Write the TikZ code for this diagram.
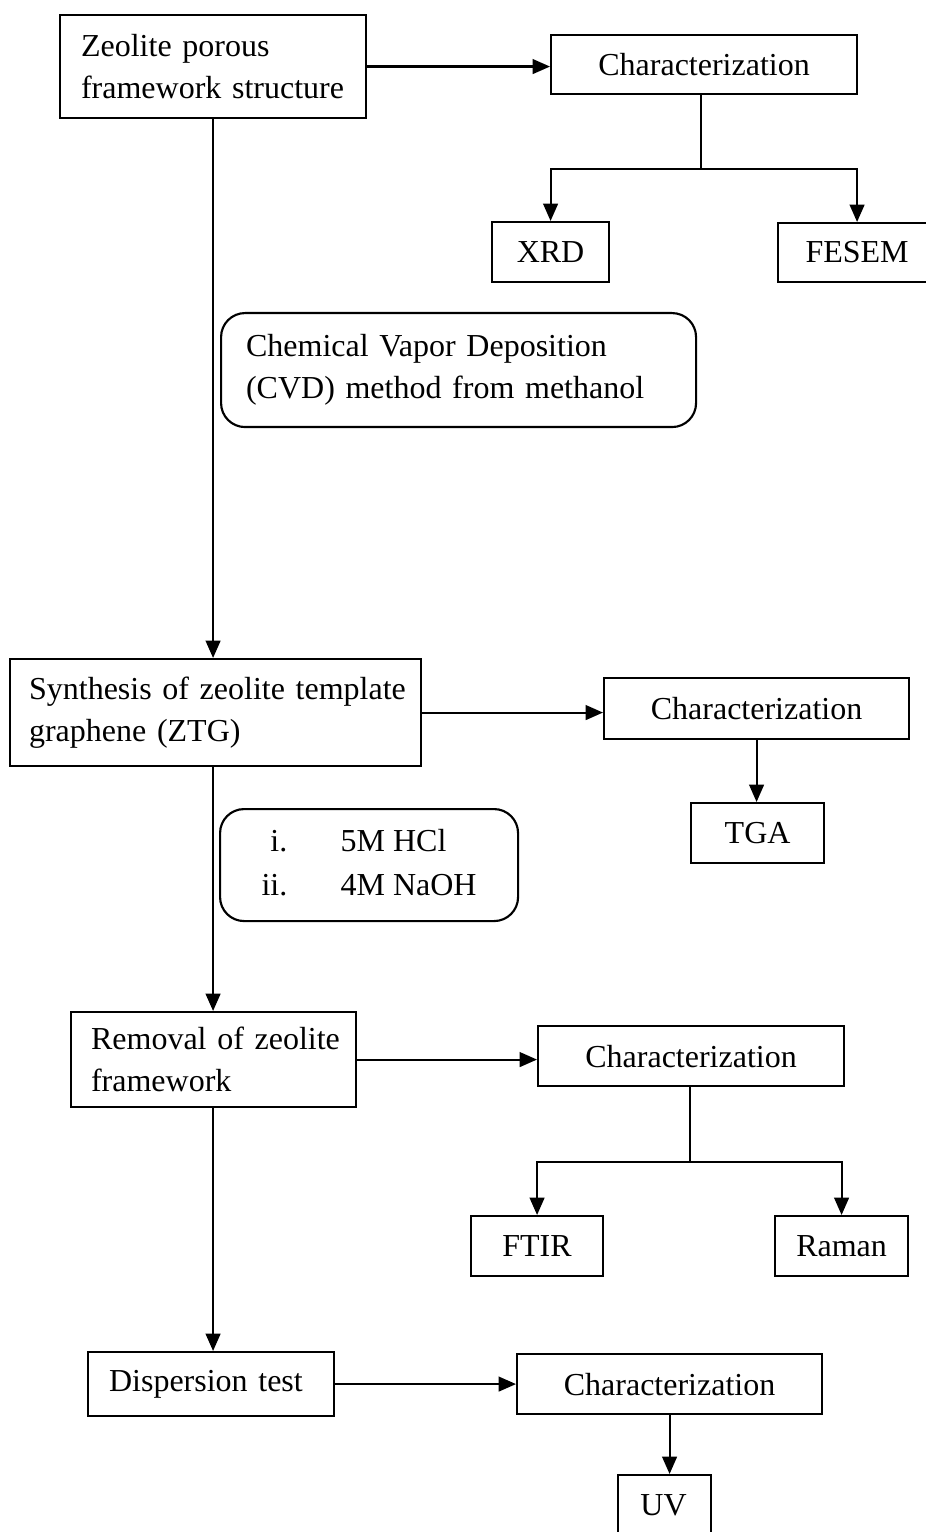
\documentclass[tikz,border=0pt]{standalone}
\usepackage{fontspec}
\setmainfont{Liberation Serif}
\usetikzlibrary{arrows.meta}
\newdimen\pxu
\pxu=0.375pt
\begin{document}
\begin{tikzpicture}[x=0.375pt,y=-0.375pt,
  every node/.style={font=\fontsize{12}{15.75}\selectfont},
  box/.style={draw,line width=0.8pt,anchor=north west,inner sep=0pt,align=center},
  lbox/.style={box,align=left},
  rbox/.style={box,rounded corners=9pt},
  ln/.style={line width=0.8pt},
  arr/.style={ln,-{Triangle[length=6.5pt,width=5.5pt]}}]
\useasboundingbox (0,0) rectangle (925,1532);
% nodes
\node[lbox,minimum width=306\pxu,minimum height=103\pxu,text width=264\pxu] (zeo) at (59,14) {\mbox{Zeolite porous}\\\mbox{framework structure}};
\node[box,minimum width=306\pxu,minimum height=59\pxu] (ch1) at (550,34) {Characterization};
\node[box,minimum width=117\pxu,minimum height=60\pxu] (xrd) at (491,221) {XRD};
\node[box,minimum width=158\pxu,minimum height=59\pxu] (fesem) at (777,222) {FESEM};
\node[rbox,align=left,minimum width=475\pxu,minimum height=114\pxu,text width=425\pxu] (cvd) at (220,312) {\mbox{Chemical Vapor Deposition}\\\mbox{(CVD) method from methanol}};
\node[lbox,minimum width=411\pxu,minimum height=107\pxu,text width=373\pxu] (syn) at (9,658) {\mbox{Synthesis of zeolite template}\\\mbox{graphene (ZTG)}};
\node[box,minimum width=305\pxu,minimum height=61\pxu] (ch2) at (603,677) {Characterization};
\node[box,minimum width=133\pxu,minimum height=60\pxu] (tga) at (690,802) {TGA};
\node[rbox,minimum width=298\pxu,minimum height=112\pxu] (acid) at (219,808) {\def\arraystretch{1.05}\begin{tabular}{@{}r@{\hspace{20pt}}l@{}}i. & 5M HCl\\ ii. & 4M NaOH\end{tabular}};
\node[lbox,minimum width=285\pxu,minimum height=95\pxu,text width=245\pxu] (rem) at (70,1011) {\mbox{Removal of zeolite}\\\mbox{framework}};
\node[box,minimum width=306\pxu,minimum height=60\pxu] (ch3) at (537,1025) {Characterization};
\node[box,minimum width=132\pxu,minimum height=60\pxu] (ftir) at (470,1215) {FTIR};
\node[box,minimum width=133\pxu,minimum height=60\pxu] (raman) at (774,1215) {Raman};
\node[lbox,minimum width=246\pxu,minimum height=64\pxu,text width=204\pxu] (disp) at (87,1351) {\mbox{Dispersion test}};
\node[box,minimum width=305\pxu,minimum height=60\pxu] (ch4) at (516,1353) {Characterization};
\node[box,minimum width=93\pxu,minimum height=76\pxu] (uv) at (617,1474) {};
\node (uvt) at (663.5,1505) {UV};
% coordinates for splits
\coordinate (s1) at (701,169);
\coordinate (s3) at (690,1162);
% connectors
\draw[arr] (zeo.east) -- (zeo.east -| ch1.west);
\draw[ln] (s1 |- ch1.south) -- (s1);
\draw[arr] (s1) -| (xrd.north);
\draw[arr] (s1) -| (fesem.north);
\draw[arr] (zeo.south) -- (zeo.south |- syn.north);
\draw[arr] (syn.east) -- (syn.east -| ch2.west);
\draw[arr] (ch2.south) -- (ch2.south |- tga.north);
\draw[arr] (zeo.south |- syn.south) -- (zeo.south |- rem.north);
\draw[arr] (rem.east) -- (rem.east -| ch3.west);
\draw[ln] (s3 |- ch3.south) -- (s3);
\draw[arr] (s3) -| (ftir.north);
\draw[arr] (s3) -| (raman.north);
\draw[arr] (zeo.south |- rem.south) -- (zeo.south |- disp.north);
\draw[arr] (disp.east) -- (disp.east -| ch4.west);
\draw[arr] (ch4.south) -- (ch4.south |- uv.north);
\end{tikzpicture}
\end{document}
